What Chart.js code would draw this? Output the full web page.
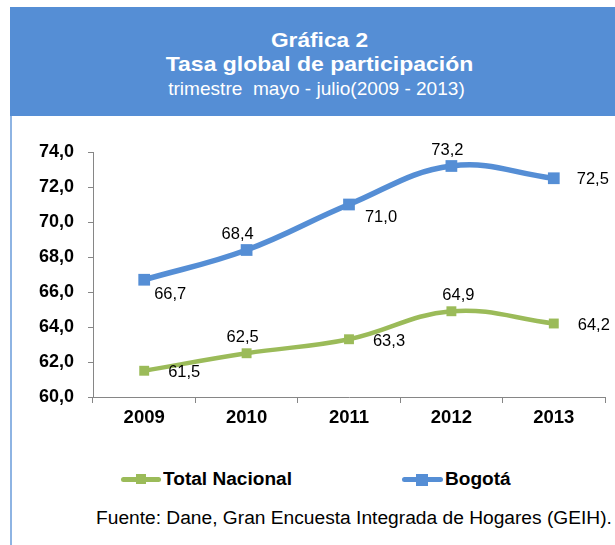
<!DOCTYPE html>
<html>
<head>
<meta charset="utf-8">
<script src="https://cdn.jsdelivr.net/npm/chart.js@4"></script>
<style>
  body { margin: 0; width: 615px; height: 545px; background: #fff; position: relative; overflow: hidden;
         font-family: "Liberation Sans", Arial, sans-serif; }
  #header { position: absolute; left: 10px; top: 7px; width: 605px; height: 109px; background: #558ED5;
            color: #fff; text-align: center; }
  #header div { position: absolute; right: 0; transform-origin: center; }
  #header .t1 { left: 14px; top: 21px; font-size: 21px; font-weight: bold; transform: scaleX(1.08); }
  #header .t2 { left: 14px; top: 45px; font-size: 21px; font-weight: bold; transform: scaleX(1.095); }
  #header .t3 { left: 8px; top: 71px; font-size: 18.5px; white-space: pre; transform: scaleX(1.03); }
  #leftline { position: absolute; left: 10px; top: 116px; width: 2px; height: 429px; background: #8EB4E3; }
  #chart { position: absolute; left: 12px; top: 116px; }
  .legend { position: absolute; top: 468px; height: 22px; font-size: 17.5px; font-weight: bold; color: #000; }
  .legend .mk { position: absolute; top: 9px; height: 5px; border-radius: 3px; }
  .legend .sq { position: absolute; }
  .legend .lb { position: absolute; top: 0; white-space: nowrap; line-height: 22px; transform-origin: left center; transform: scaleX(1.09); }
  #source { position: absolute; left: 96px; top: 508px; font-size: 17.6px; color: #000; white-space: nowrap;
            transform-origin: left center; transform: scaleX(1.09); }
</style>
</head>
<body>
<div id="header">
  <div class="t1">Gráfica 2</div>
  <div class="t2">Tasa global de participación</div>
  <div class="t3">trimestre  mayo - julio(2009 - 2013)</div>
</div>
<div id="leftline"></div>
<canvas id="chart" width="603" height="340"></canvas>

<div class="legend" style="left:121px">
  <div class="mk" style="left:0;width:40px;background:#9BBB59"></div>
  <div class="sq" style="left:15px;top:6px;width:10px;height:10px;background:#9BBB59"></div>
  <div class="lb" style="left:42px">Total Nacional</div>
</div>
<div class="legend" style="left:402px">
  <div class="mk" style="left:0;width:41px;background:#558ED5"></div>
  <div class="sq" style="left:14px;top:5.5px;width:12px;height:12px;background:#558ED5"></div>
  <div class="lb" style="left:43px">Bogotá</div>
</div>
<div id="source">Fuente: Dane, Gran Encuesta Integrada de Hogares (GEIH).</div>

<script>
const years = ["2009", "2010", "2011", "2012", "2013"];
const totalNacional = [61.5, 62.5, 63.3, 64.9, 64.2];
const bogota = [66.7, 68.4, 71.0, 73.2, 72.5];
const yTicks = [60, 62, 64, 66, 68, 70, 72, 74];

// where each value label sits relative to its point (dx, dy)
const labelOffsetsNacional = [[40, 2], [-4, -16], [40, 2], [7, -16], [40, 2]];
const labelOffsetsBogota = [[26, 15], [-9, -16], [32, 13], [-4, -16], [39, 1]];

const fontFamily = '"Liberation Sans", Arial, sans-serif';
const axisColor = "#868686";

const valueLabels = {
  id: "valueLabels",
  afterDatasetsDraw(chart) {
    const ctx = chart.ctx;
    ctx.save();
    ctx.font = "16.5px " + fontFamily;
    ctx.fillStyle = "#000";
    ctx.textAlign = "center";
    ctx.textBaseline = "middle";
    chart.data.datasets.forEach((ds, di) => {
      const meta = chart.getDatasetMeta(di);
      meta.data.forEach((pt, i) => {
        const off = ds.labelOffsets[i];
        const txt = ds.data[i].toFixed(1).replace(".", ",");
        ctx.fillText(txt, pt.x + off[0], pt.y + off[1]);
      });
    });
    ctx.restore();
  },
};

new Chart(document.getElementById("chart"), {
  type: "line",
  data: {
    labels: years,
    datasets: [
      {
        label: "Total Nacional",
        data: totalNacional,
        borderColor: "#9BBB59",
        backgroundColor: "#9BBB59",
        borderWidth: 4.5,
        pointStyle: "rect",
        pointRadius: 7,
        pointBorderWidth: 0,
        tension: 0.4,
        labelOffsets: labelOffsetsNacional,
      },
      {
        label: "Bogotá",
        data: bogota,
        borderColor: "#558ED5",
        backgroundColor: "#558ED5",
        borderWidth: 5.5,
        pointStyle: "rect",
        pointRadius: 8.3,
        pointBorderWidth: 0,
        tension: 0.4,
        labelOffsets: labelOffsetsBogota,
      },
    ],
  },
  options: {
    responsive: false,
    animation: false,
    clip: false,
    layout: { padding: { top: 36, right: 10, left: 0, bottom: 0 } },
    plugins: {
      legend: { display: false },
      tooltip: { enabled: false },
    },
    scales: {
      x: {
        offset: true,
        grid: { offset: true, drawOnChartArea: false, drawTicks: true, tickLength: 6, color: axisColor },
        border: { color: axisColor, width: 1 },
        ticks: {
          color: "#000",
          padding: 4,
          maxRotation: 0,
          font: { family: fontFamily, size: 18.5, weight: "bold" },
        },
        afterFit: (scale) => { scale.height = 59; },
      },
      y: {
        min: 60,
        max: 74,
        afterBuildTicks: (scale) => { scale.ticks = yTicks.map((v) => ({ value: v })); },
        grid: { drawOnChartArea: false, drawTicks: true, tickLength: 5, color: axisColor },
        border: { color: axisColor, width: 1 },
        ticks: {
          color: "#000",
          padding: 14,
          font: { family: fontFamily, size: 18, weight: "bold" },
          callback: (v) => Number(v).toFixed(1).replace(".", ","),
        },
        afterFit: (scale) => { scale.width = 81; },
      },
    },
  },
  plugins: [valueLabels],
});
</script>
</body>
</html>
